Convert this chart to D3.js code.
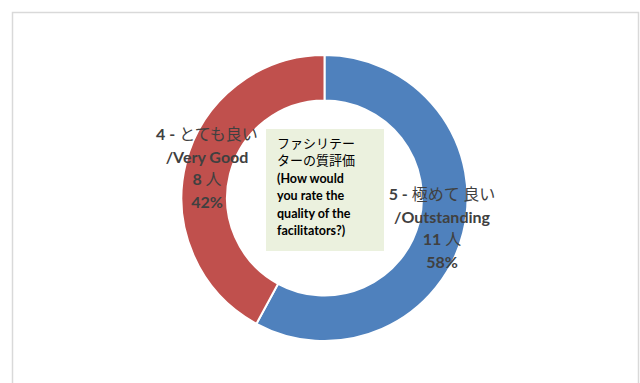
<!DOCTYPE html>
<html>
<head>
<meta charset="utf-8">
<script src="https://cdn.jsdelivr.net/npm/d3@7"></script>
<style>
  html, body { margin: 0; padding: 0; background: #ffffff; }
  svg { display: block; }
</style>
</head>
<body>
<svg id="chart" width="640" height="383"></svg>
<script>
// Survey result: facilitator quality rating
const ratingNumbers = ["5", "4"];
const ratingJa = ["極めて 良い", "とても良い"];
const ratingEn = ["Outstanding", "Very Good"];
const counts = [11, 8];
const colors = ["#4f81bd", "#c0504d"];
const centerTitleLines = ["ファシリテー", "ターの質評価", "(How would", "you rate the", "quality of the", "facilitators?)"];

const W = 640, H = 383;
const cx = 324.5, cy = 198, outerR = 143, innerR = 97.5;

const latin = "Lato, 'Open Sans', sans-serif";
const cjk = "'Noto Sans CJK JP', sans-serif";

const svg = d3.select("#chart");

// chart area frame
svg.append("rect")
  .attr("x", 12.5).attr("y", 12.5)
  .attr("width", 626).attr("height", 400)
  .attr("fill", "#ffffff")
  .attr("stroke", "#d9d9d9")
  .attr("stroke-width", 1.5);

const data = counts.map((c, i) => ({ i, count: c }));
const total = d3.sum(counts);

const pie = d3.pie().value(d => d.count).sort(null);
const arc = d3.arc().innerRadius(innerR).outerRadius(outerR);

const g = svg.append("g").attr("transform", `translate(${cx},${cy})`);

g.selectAll("path.slice")
  .data(pie(data))
  .join("path")
  .attr("class", "slice")
  .attr("d", arc)
  .attr("fill", d => colors[d.data.i])
  .attr("stroke", "#ffffff")
  .attr("stroke-width", 2);

// center title box
const box = svg.append("g");
box.append("rect")
  .attr("x", 266).attr("y", 129)
  .attr("width", 118).attr("height", 122)
  .attr("fill", "#ebf1de");

const titleText = box.append("text").attr("fill", "#000000");
centerTitleLines.forEach((line, k) => {
  const isJa = /[\u3000-\u9fff\u30a0-\u30ff]/.test(line);
  titleText.append("tspan")
    .attr("x", 277)
    .attr("y", 148 + k * 17.4)
    .attr("font-family", isJa ? cjk : latin)
    .attr("font-weight", isJa ? "normal" : "bold")
    .attr("font-size", isJa ? 13 : 12.5)
    .text(line);
});

// data labels
const labelPos = [
  { x: 442, y: 200 },
  { x: 207, y: 140 }
];
const lineGap = 22.7;

data.forEach((d, i) => {
  const pct = Math.round(d.count / total * 100) + "%";
  const t = svg.append("text")
    .attr("text-anchor", "middle")
    .attr("fill", "#404040")
    .attr("font-size", 16);
  const p = labelPos[i];

  // line 1: number + Japanese rating
  const l1 = t.append("tspan").attr("x", p.x).attr("y", p.y);
  l1.append("tspan").attr("font-family", latin).attr("font-weight", "bold").text(ratingNumbers[i] + " - ");
  l1.append("tspan").attr("font-family", cjk).attr("font-weight", "normal").text(ratingJa[i]);

  // line 2: English rating
  t.append("tspan").attr("x", p.x).attr("y", p.y + lineGap)
    .attr("font-family", latin).attr("font-weight", "bold")
    .text("/" + ratingEn[i]);

  // line 3: head count
  const l3 = t.append("tspan").attr("x", p.x).attr("y", p.y + lineGap * 2);
  l3.append("tspan").attr("font-family", latin).attr("font-weight", "bold").text(d.count + " ");
  l3.append("tspan").attr("font-family", cjk).attr("font-weight", "normal").text("人");

  // line 4: share
  t.append("tspan").attr("x", p.x).attr("y", p.y + lineGap * 3)
    .attr("font-family", latin).attr("font-weight", "bold")
    .text(pct);
});
</script>
</body>
</html>
